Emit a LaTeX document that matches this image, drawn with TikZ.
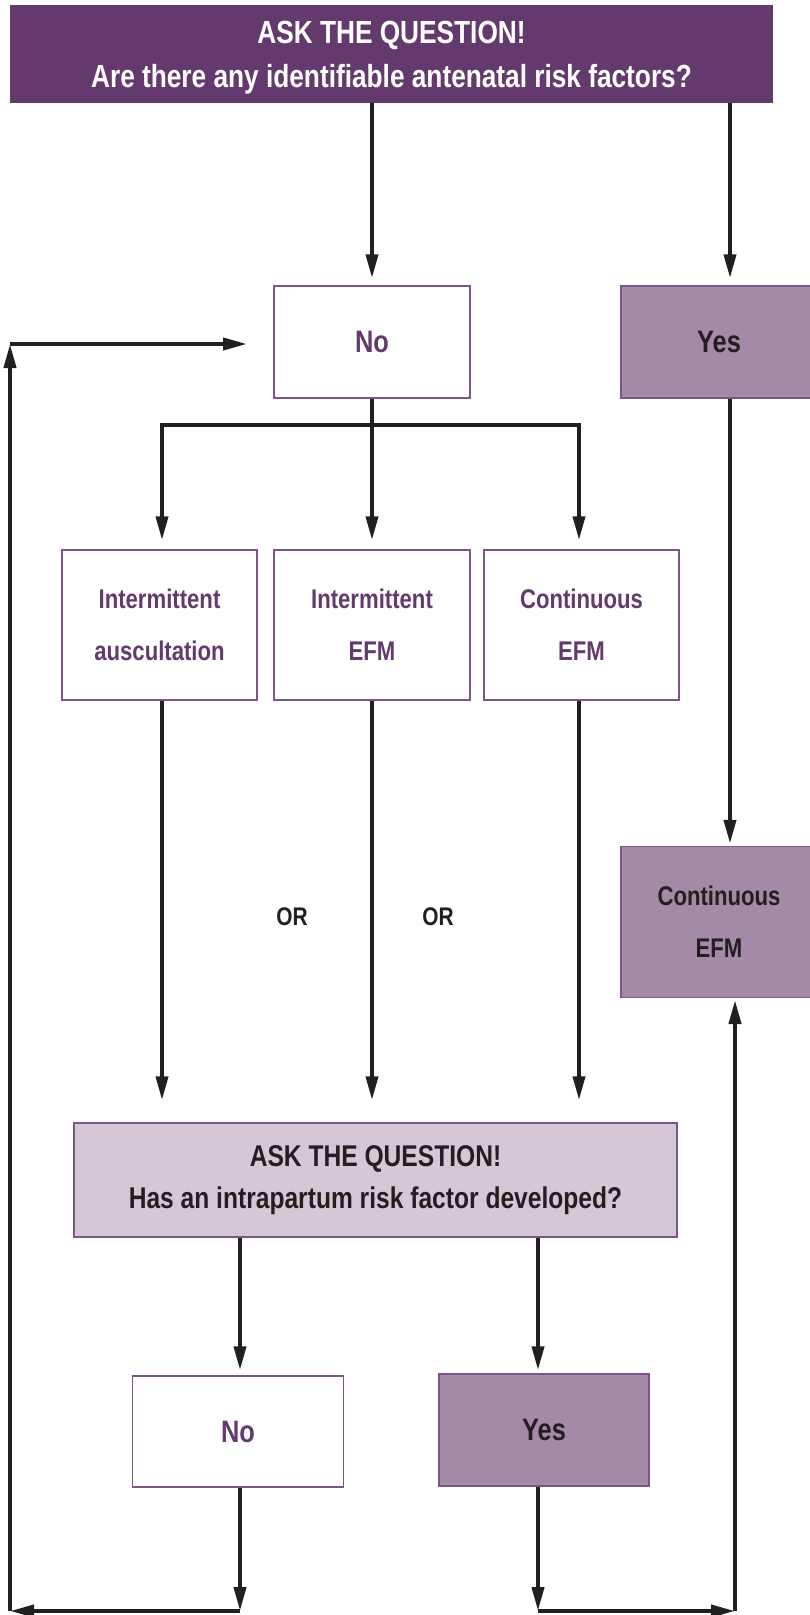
\documentclass[tikz,border=0pt]{standalone}
\usepackage{fontspec}
\setmainfont{Liberation Sans}[FakeStretch=0.82]
\usetikzlibrary{arrows.meta}
\definecolor{dpurple}{HTML}{643A6E}
\definecolor{mpurple}{HTML}{A48AA6}
\definecolor{lpurple}{HTML}{D5C8D6}
\definecolor{bpurple}{HTML}{7D5487}
\definecolor{ink}{HTML}{231F20}
\tikzset{
  x=1pt, y=-1pt,
  box/.style={draw=bpurple, line width=1.5pt, align=center, inner sep=0pt, font=\bfseries},
  whitebox/.style={box, fill=white, text=dpurple},
  midbox/.style={box, fill=mpurple, text=ink},
  arr/.style={draw=ink, line width=4pt, -{Triangle[length=24pt,width=12pt]}},
  ln/.style={draw=ink, line width=4pt},
  orlabel/.style={font=\bfseries\fontsize{25.5}{28}\selectfont, text=ink},
  yn/.style={font=\bfseries\fontsize{31}{52}\selectfont},
  opt/.style={font=\bfseries\fontsize{27}{52}\selectfont}
}
\begin{document}
\begin{tikzpicture}
\useasboundingbox (0,0) rectangle (810,1615);
% top question
\node[fill=dpurple, inner sep=0pt, minimum width=763pt, minimum height=98pt] (q1) at (391.5,54) {};
\node[align=center, inner sep=0pt, text=white,
  font=\bfseries\fontsize{32}{44}\selectfont] (q1t) at (391.5,58)
  {ASK THE QUESTION!\\Are there any identifiable antenatal risk factors?};
% first level
\node[whitebox, yn, minimum width=196pt, minimum height=112pt] (no1) at (372,342) {No};
\node[midbox, yn, minimum width=196pt, minimum height=112pt] (yes1) at (719,342) {Yes};
% three options
\node[whitebox, opt, minimum width=195pt, minimum height=150pt] (ia) at (159.5,625) {Intermittent\\auscultation};
\node[whitebox, opt, minimum width=196pt, minimum height=150pt] (ie) at (372,625) {Intermittent\\EFM};
\node[whitebox, opt, minimum width=195pt, minimum height=150pt] (ce) at (581.5,625) {Continuous\\EFM};
\node[midbox, opt, minimum width=196pt, minimum height=151pt] (ce2) at (719,922) {Continuous\\EFM};
% OR labels
\node[orlabel] (or1) at (292,917) {OR};
\node[orlabel] (or2) at (438,917) {OR};
% second question
\node[box, fill=lpurple, text=ink, minimum width=603pt, minimum height=114pt,
  font=\bfseries\fontsize{30}{42}\selectfont] (q2) at (375.5,1180)
  {ASK THE QUESTION!\\Has an intrapartum risk factor developed?};
% second answers
\node[whitebox, yn, minimum width=211pt, minimum height=111pt] (no2) at (238,1431.5) {No};
\node[midbox, yn, minimum width=210pt, minimum height=112pt] (yes2) at (544,1430) {Yes};
% coordinates
\coordinate (nox) at (372,0);
\coordinate (yesx) at (730,0);
\coordinate (brL) at (162,425);
\coordinate (brR) at (579,425);
\coordinate (brM) at (372,425);
\coordinate (bl) at (10,1611);
\coordinate (tl) at (10,344);
\coordinate (tlend) at (247,344);
\coordinate (nob) at (240,1611);
\coordinate (yesb) at (538,1611);
\coordinate (br) at (735,1611);
\coordinate (brtip) at (735,1000);
% connectors from top
\draw[arr, shorten >=7pt] (q1.south -| nox) -- (no1.north -| nox);
\draw[arr, shorten >=7pt] (q1.south -| yesx) -- (yes1.north -| yesx);
% branch
\draw[ln] (no1.south) -- (brM);
\draw[ln, line cap=rect] (brL) -- (brR);
\draw[arr, shorten >=9pt] (brL) -- (brL |- ia.north);
\draw[arr, shorten >=9pt] (brM) -- (ie.north);
\draw[arr, shorten >=9pt] (brR) -- (brR |- ce.north);
% right yes path
\draw[arr, shorten >=2pt] (yes1.south -| yesx) -- (ce2.north -| yesx);
% down to question 2
\draw[arr, shorten >=22pt] (ia.south -| brL) -- (q2.north -| brL);
\draw[arr, shorten >=22pt] (ie.south) -- (q2.north -| ie);
\draw[arr, shorten >=22pt] (ce.south -| brR) -- (q2.north -| brR);
% question 2 answers
\draw[arr, shorten >=5pt] (q2.south -| nob) -- (no2.north -| nob);
\draw[arr, shorten >=3pt] (q2.south -| yesb) -- (yesb |- yes2.north);
% bottom loops
\draw[arr] (no2.south -| nob) -- (nob);
\draw[arr] (nob) -- (bl);
\draw[arr] (bl) -- (tl);
\draw[arr] (tl) -- (tlend);
\draw[arr] (yes2.south -| yesb) -- (yesb);
\draw[arr] (yesb) -- (br);
\draw[arr] (br) -- (brtip);
\end{tikzpicture}
\end{document}
